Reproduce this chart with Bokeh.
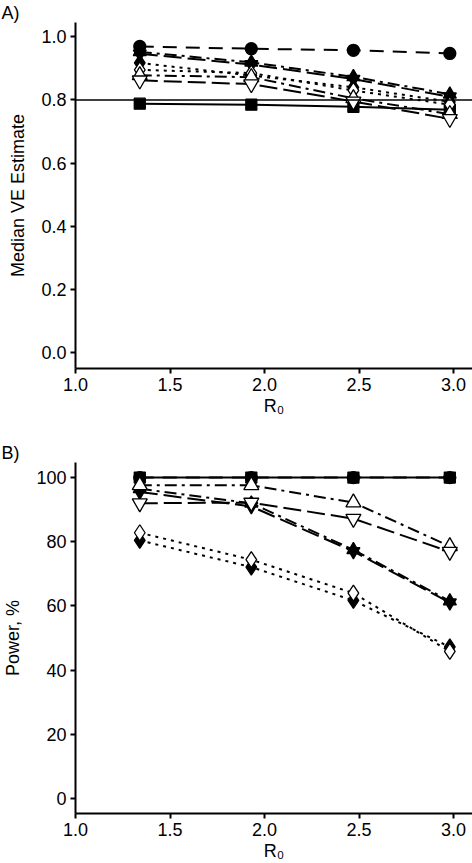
from bokeh.plotting import figure
from bokeh.layouts import column
from bokeh.models import Span, NumeralTickFormatter, FixedTicker, Range1d
from bokeh.embed import file_html
from bokeh.resources import INLINE

# ---------------- data ----------------
r0 = [1.34, 1.93, 2.47, 2.98]

# Panel A: median VE estimate
ve_square = [0.788, 0.785, 0.778, 0.769]
ve_circle = [0.969, 0.962, 0.957, 0.947]
ve_tri_up_f = [0.952, 0.919, 0.873, 0.818]
ve_tri_dn_f = [0.946, 0.912, 0.866, 0.810]
ve_diam_f = [0.917, 0.877, 0.840, 0.794]
ve_diam_o = [0.895, 0.885, 0.830, 0.785]
ve_tri_up_o = [0.878, 0.872, 0.805, 0.755]
ve_tri_dn_o = [0.862, 0.850, 0.795, 0.740]

# Panel B: power, %
pw_square = [100, 100, 100, 100]
pw_circle = [100, 100, 100, 100]
pw_tri_up_f = [96.5, 92.0, 77.5, 61.5]
pw_tri_dn_f = [95.5, 91.0, 77.0, 61.0]
pw_diam_f = [80.4, 72.1, 61.7, 47.2]
pw_diam_o = [82.8, 74.4, 64.0, 45.8]
pw_tri_up_o = [97.6, 97.6, 92.2, 78.6]
pw_tri_dn_o = [92.0, 92.2, 87.2, 76.9]

x_ticks = [1.0, 1.5, 2.0, 2.5, 3.0]
ve_ticks = [0.0, 0.2, 0.4, 0.6, 0.8, 1.0]
pw_ticks = [0, 20, 40, 60, 80, 100]

FONT = "Liberation Sans"
FS = "18px"

LW = 2
styles = [
    # (marker, fill, line_dash, size)
    ("square", "black", "solid", 11),
    ("circle", "black", "14 9", 12),
    ("triangle", "black", "12 5 3 5", 13),
    ("inverted_triangle", "black", "18 6", 13),
    ("diamond", "black", "3 5", 16),
    ("diamond", "white", "3 5", 16),
    ("triangle", "white", "12 5 3 5", 15),
    ("inverted_triangle", "white", "18 6", 15),
]

X0, X1 = 1.0, 3.1
LEFT = 74
WIDTH = 472


def make_fig(height, bottom, yr, yticks, yfmt, ylabel, tag, series):
    p = figure(width=WIDTH, height=height, output_backend="svg", toolbar_location=None,
               x_range=Range1d(X0, X1), y_range=yr, title=tag,
               min_border_left=LEFT, min_border_right=0,
               min_border_top=0, min_border_bottom=bottom)
    p.title.align = "left"
    p.title.offset = -LEFT
    p.title.standoff = 0
    p.title.text_font = FONT
    p.title.text_font_size = FS
    p.title.text_font_style = "normal"
    p.title.text_color = "black"
    p.outline_line_color = None
    p.grid.visible = False
    for ax in (p.xaxis[0], p.yaxis[0]):
        ax.axis_line_width = 2
        ax.axis_line_color = "black"
        ax.major_tick_line_width = 2
        ax.major_tick_line_color = "black"
        ax.major_tick_out = 5
        ax.major_tick_in = 0
        ax.minor_tick_line_color = None
        ax.major_label_text_font = FONT
        ax.major_label_text_font_size = FS
        ax.major_label_text_color = "black"
        ax.axis_label_text_font = FONT
        ax.axis_label_text_font_size = FS
        ax.axis_label_text_font_style = "normal"
        ax.axis_label_text_color = "black"
        ax.major_label_standoff = 4
    p.xaxis.ticker = FixedTicker(ticks=x_ticks)
    p.xaxis.formatter = NumeralTickFormatter(format="0.0")
    p.xaxis.axis_label = "R₀"
    p.xaxis.axis_label_standoff = 2
    p.yaxis.ticker = FixedTicker(ticks=yticks)
    p.yaxis.formatter = NumeralTickFormatter(format=yfmt)
    p.yaxis.axis_label = ylabel
    p.yaxis.axis_label_standoff = 10

    for (marker, fill, dash, size), ys in zip(styles, series):
        p.line(r0, ys, line_color="black", line_width=LW, line_dash=dash)
    for (marker, fill, dash, size), ys in zip(styles, series):
        p.scatter(r0, ys, marker=marker, size=size, fill_color=fill,
                  line_color="black", line_width=1.3)
    return p


pa = make_fig(440, 72, Range1d(-0.05, 1.045), ve_ticks, "0.0", "Median VE Estimate", "A)",
              [ve_square, ve_circle, ve_tri_up_f, ve_tri_dn_f, ve_diam_f, ve_diam_o, ve_tri_up_o, ve_tri_dn_o])
pa.add_layout(Span(location=0.8, dimension="width", line_color="black", line_width=1.5))

pb = make_fig(423, 50, Range1d(-4.7, 104.7), pw_ticks, "0", "Power, %", "B)",
              [pw_square, pw_circle, pw_tri_up_f, pw_tri_dn_f, pw_diam_f, pw_diam_o, pw_tri_up_o, pw_tri_dn_o])

layout = column(pa, pb, spacing=0)
open("out.html", "w").write(file_html(layout, INLINE))
